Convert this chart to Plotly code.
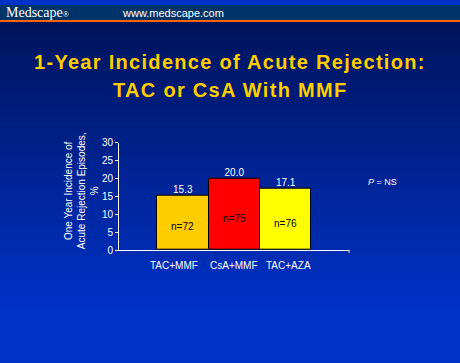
import plotly.graph_objects as go

categories = ["TAC+MMF", "CsA+MMF", "TAC+AZA"]
incidence = [15.3, 20.0, 17.1]
value_labels = ["15.3", "20.0", "17.1"]
n_labels = ["n=72", "n=75", "n=76"]
bar_colors = ["#FFCC00", "#FF0000", "#FFFF00"]
y_ticks = [0, 5, 10, 15, 20, 25, 30]

W, H = 460, 363
x_pos = list(range(len(categories)))
label_shift = [-9, 0, 3]

fig = go.Figure()

fig.add_trace(go.Bar(
    x=x_pos, y=incidence, width=1.0,
    marker=dict(color=bar_colors, line=dict(color="black", width=1)),
    showlegend=False, hoverinfo="skip",
))
fig.add_trace(go.Scatter(
    x=x_pos, y=incidence, mode="text", text=value_labels,
    textposition="top center",
    textfont=dict(family="Arial, Liberation Sans", size=10, color="white"),
    showlegend=False, cliponaxis=False, hoverinfo="skip",
))

# background gradient
shapes = []
top_c = (0x00, 0x14, 0x5C)
bot_c = (0x00, 0x32, 0xC8)
y0px = 17
nb = 60
for i in range(nb):
    t = i / (nb - 1)
    c = tuple(int(round(top_c[k] + (bot_c[k] - top_c[k]) * min(1, t * 1.15))) for k in range(3))
    ya = y0px + (H - y0px) * i / nb
    yb = y0px + (H - y0px) * (i + 1) / nb + 0.6
    shapes.append(dict(type="rect", xref="paper", yref="paper", x0=0, x1=1,
                       y0=1 - yb / H, y1=1 - ya / H, line=dict(width=0),
                       fillcolor="rgb(%d,%d,%d)" % c, layer="below"))
# header bar
shapes.append(dict(type="rect", xref="paper", yref="paper", x0=0, x1=1,
                   y0=1 - 15.5 / H, y1=1, line=dict(width=0), fillcolor="#003468", layer="below"))
shapes.append(dict(type="rect", xref="paper", yref="paper", x0=0, x1=1,
                   y0=1 - 17.5 / H, y1=1 - 15.5 / H, line=dict(width=0), fillcolor="#FF6600", layer="below"))
# end tick on x axis
shapes.append(dict(type="line", xref="paper", yref="paper", x0=349 / W, x1=349 / W,
                   y0=1 - 255.5 / H, y1=1 - 252.5 / H, line=dict(color="white", width=1)))

title_style = "letter-spacing:1.3px"
tfont = dict(family="Arial, Liberation Sans", size=10, color="white")
ann = []
ann.append(dict(text="Medscape<span style='font-size:8px'>®</span>", x=4 / W, y=1 - 8 / H, xref="paper", yref="paper",
                xanchor="left", yanchor="middle", showarrow=False,
                font=dict(family="Liberation Serif, Times New Roman", size=14, color="white")))
ann.append(dict(text="www.medscape.com", x=120 / W, y=1 - 8 / H, xref="paper", yref="paper",
                xanchor="left", yanchor="middle", showarrow=False,
                font=dict(family="Arial, Liberation Sans", size=11, color="white")))
ann.append(dict(text="<span style='%s'><b>1-Year Incidence of Acute Rejection:</b></span>" % title_style,
                x=0.5, y=1 - 59 / H, xref="paper", yref="paper",
                xanchor="center", yanchor="middle", showarrow=False,
                font=dict(family="Arial, Liberation Sans", size=20, color="#FFCC00")))
ann.append(dict(text="<span style='%s'><b>TAC or CsA With MMF</b></span>" % title_style,
                x=0.5, y=1 - 88 / H, xref="paper", yref="paper",
                xanchor="center", yanchor="middle", showarrow=False,
                font=dict(family="Arial, Liberation Sans", size=20, color="#FFCC00")))
ann.append(dict(text="One Year Incidence of<br>Acute Rejection Episodes,<br>%", x=81 / W, y=1 - 192 / H,
                xref="paper", yref="paper", xanchor="center", yanchor="middle", showarrow=False,
                textangle=-90, font=tfont))
ann.append(dict(text="<i>P</i> = NS", x=382 / W, y=1 - 183 / H, xref="paper", yref="paper",
                xanchor="center", yanchor="middle", showarrow=False,
                font=dict(family="Arial, Liberation Sans", size=9, color="white")))
for xi, cat, nl, v, sh in zip(x_pos, categories, n_labels, incidence, label_shift):
    ann.append(dict(text=nl, x=xi, y=v / 2, xref="x", yref="y", yshift=-4,
                    xanchor="center", yanchor="middle", showarrow=False,
                    font=dict(family="Arial, Liberation Sans", size=10, color="black")))
    ann.append(dict(text=cat, x=xi, y=1 - 269 / H, xref="x", yref="paper", xshift=sh,
                    xanchor="center", yanchor="middle", showarrow=False, font=tfont))

fig.update_layout(
    width=W, height=H, margin=dict(l=0, r=0, t=0, b=0),
    paper_bgcolor="#0032C8", plot_bgcolor="rgba(0,0,0,0)",
    shapes=shapes, annotations=ann, bargap=0,
    xaxis=dict(domain=[119 / W, 349 / W], range=[-1.24, 3.23], tickmode="array",
               tickvals=x_pos, showticklabels=False, showgrid=False, zeroline=False,
               showline=True, linecolor="white", linewidth=1, ticks="",
               fixedrange=True),
    yaxis=dict(domain=[1 - 252.7 / H, 1 - 142 / H], range=[0, 30], tickmode="array",
               tickvals=y_ticks, showgrid=False, zeroline=False, showline=True,
               linecolor="white", linewidth=1, ticks="outside", ticklen=3, tickcolor="white",
               tickfont=tfont, fixedrange=True),
)

fig.write_html("out.html", config={"displayModeBar": False},
               post_script="document.body.style.margin='0';document.body.style.background='#0032C8';")
